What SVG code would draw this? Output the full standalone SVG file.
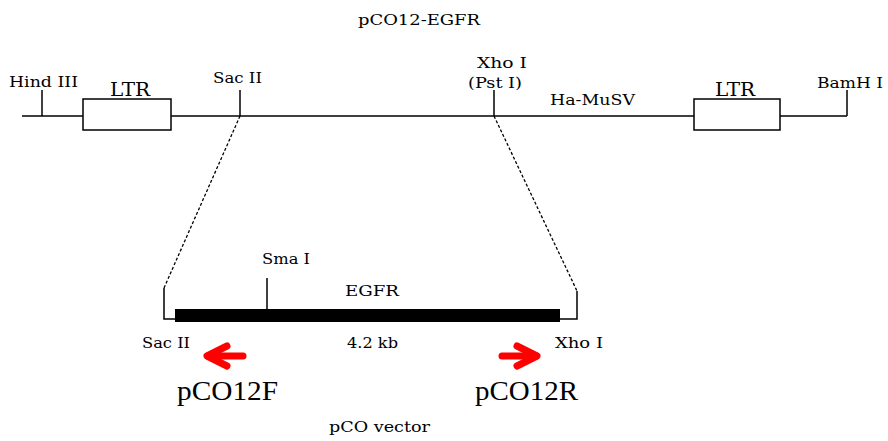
<svg xmlns="http://www.w3.org/2000/svg" width="888" height="441" viewBox="0 0 888 441">
<style>
.t{font-family:"DejaVu Serif","Liberation Serif",serif;font-size:15px;fill:#000}
.b{font-family:"Liberation Serif","Times New Roman",serif;font-size:27px;fill:#000}
.l{stroke:#000;stroke-width:1.5;fill:none}
.d{stroke:#000;stroke-width:1.3;fill:none;stroke-dasharray:3,2}
.r{stroke:#ff0000;stroke-width:7;fill:none;stroke-linecap:round;stroke-linejoin:round}
</style>
<rect width="888" height="441" fill="#fff"/>
<text class="t" x="358" y="25" textLength="122" lengthAdjust="spacingAndGlyphs">pCO12-EGFR</text>
<g id="connectors">
<line class="l" x1="22" y1="116" x2="83" y2="116"/>
<line class="l" x1="171" y1="116" x2="694" y2="116"/>
<line class="l" x1="780" y1="116" x2="847" y2="116"/>
<line class="d" x1="240" y1="116" x2="164" y2="288"/>
<line class="d" x1="494" y1="116" x2="577" y2="291"/>
</g>
<g id="hind3"><line class="l" x1="42" y1="90" x2="42" y2="116"/><text class="t" x="9" y="87" textLength="69" lengthAdjust="spacingAndGlyphs">Hind III</text></g>
<g id="ltr1"><rect class="l" x="83" y="99" width="88" height="31"/><text class="t" x="110" y="96" style="font-size:18px" textLength="40" lengthAdjust="spacingAndGlyphs">LTR</text></g>
<g id="sac2"><line class="l" x1="240" y1="90" x2="240" y2="116"/><text class="t" x="213" y="83" textLength="49" lengthAdjust="spacingAndGlyphs">Sac II</text></g>
<g id="xho1"><line class="l" x1="494" y1="90" x2="494" y2="116"/><text class="t" x="477" y="68" textLength="50" lengthAdjust="spacingAndGlyphs">Xho I</text><text class="t" x="468" y="88" textLength="54" lengthAdjust="spacingAndGlyphs">(Pst I)</text></g>
<g id="hamusv"><text class="t" x="550" y="105" textLength="85" lengthAdjust="spacingAndGlyphs">Ha-MuSV</text></g>
<g id="ltr2"><rect class="l" x="694" y="99" width="86" height="31"/><text class="t" x="715" y="96" style="font-size:18px" textLength="40" lengthAdjust="spacingAndGlyphs">LTR</text></g>
<g id="bamh1"><line class="l" x1="847" y1="90" x2="847" y2="116"/><text class="t" x="817" y="88" textLength="66" lengthAdjust="spacingAndGlyphs">BamH I</text></g>
<g id="insert">
<polyline class="l" points="164,288 164,319 175,319"/>
<rect x="175" y="309" width="385" height="13" fill="#000"/>
<polyline class="l" points="560,319 577,319 577,291"/>
<line class="l" x1="267" y1="278" x2="267" y2="309"/>
<text class="t" x="262" y="264" textLength="48" lengthAdjust="spacingAndGlyphs">Sma I</text>
<text class="t" x="345" y="296" textLength="54" lengthAdjust="spacingAndGlyphs">EGFR</text>
<text class="t" x="142" y="348" textLength="48" lengthAdjust="spacingAndGlyphs">Sac II</text>
<text class="t" x="347" y="348" textLength="51" lengthAdjust="spacingAndGlyphs">4.2 kb</text>
<text class="t" x="555" y="348" textLength="48" lengthAdjust="spacingAndGlyphs">Xho I</text>
</g>
<g id="primerF"><line class="r" x1="243" y1="356" x2="208" y2="356"/><polyline class="r" points="227,346 207,356 227,366"/><text class="b" x="177" y="400" textLength="101" lengthAdjust="spacingAndGlyphs">pCO12F</text></g>
<g id="primerR"><line class="r" x1="502" y1="356" x2="536" y2="356"/><polyline class="r" points="517,346 537,356 517,366"/><text class="b" x="475" y="400" textLength="103" lengthAdjust="spacingAndGlyphs">pCO12R</text></g>
<text class="t" x="329" y="432" textLength="101" lengthAdjust="spacingAndGlyphs">pCO vector</text>
</svg>
